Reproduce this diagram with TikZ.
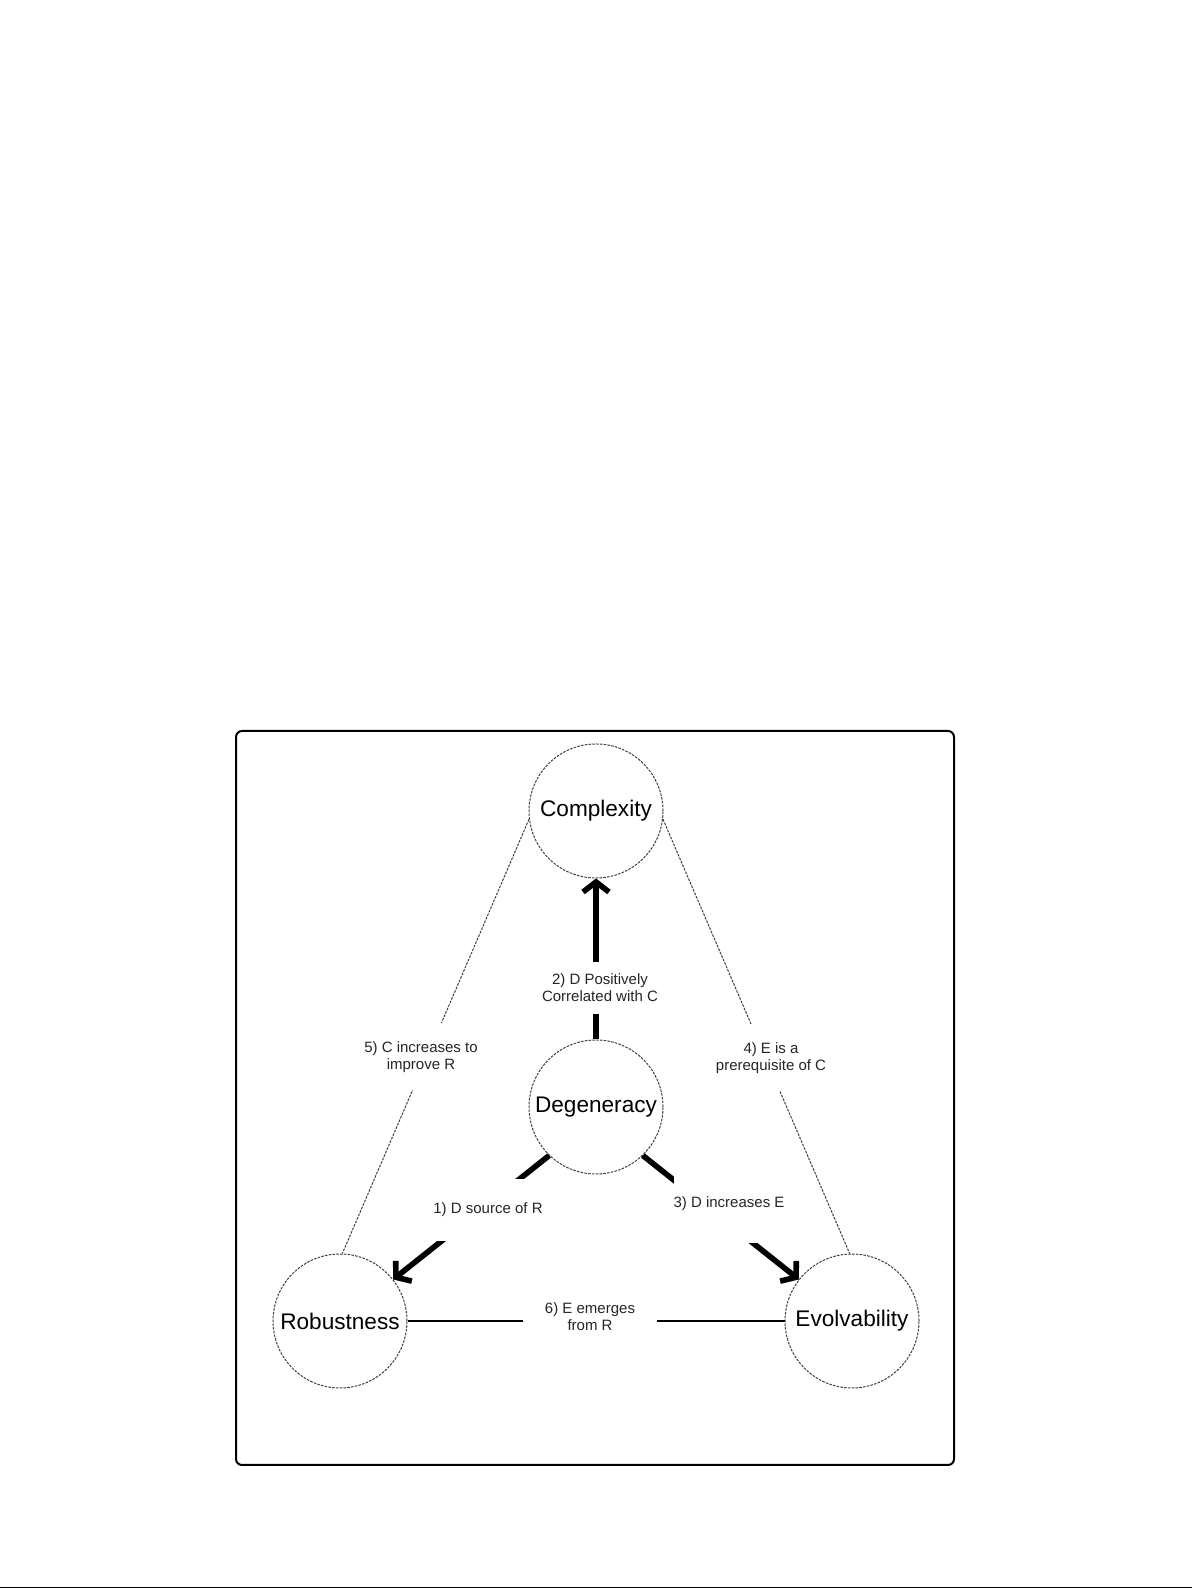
\documentclass[tikz,border=0pt]{standalone}
\usepackage{fontspec}
\setmainfont{Liberation Sans}
\usetikzlibrary{arrows.meta,positioning}

\tikzset{
    concept/.style={circle,draw=black!75,line width=0.5pt,dash pattern=on 1.3pt off 0.6pt,
        minimum size=67pt,inner sep=0pt,font=\fontsize{11.3}{13}\selectfont},
    relation/.style={fill=white,align=center,text=black!85,font=\fontsize{7.5}{8.5}\selectfont},
    strong/.style={line width=2.8pt,-{Straight Barb[length=5pt,width=13pt]}},
    weak/.style={draw=black!75,line width=0.5pt,dash pattern=on 1.3pt off 0.6pt},
    link/.style={line width=1pt}
}

\begin{document}
\begin{tikzpicture}[x=0.5pt,y=0.5pt]
        \useasboundingbox (0,0) rectangle (1192,1588);

        % Frame
        \draw[line width=1pt,rounded corners=3pt] (236,123) rectangle (954,857);
        \draw[line width=0.5pt] (0,0.5) -- (1192,0.5);

        % Concepts
        \node[concept] (cpx) at (596,777) {Complexity};
        \node[concept] (deg) at (596,481) {Degeneracy};
        \node[concept] (rob) at (340,267) {Robustness};
        \node[concept] (evo) at (852,267) {Evolvability};

        % Degeneracy as the source
        \draw[strong] (deg.north) -- (cpx.south);
        \draw[strong] (deg.226) -- (rob.38);
        \draw[strong] (deg.314) -- (evo.142);

        % Remaining relations
        \draw[weak] (cpx.187) -- (rob.88);
        \draw[weak] (cpx.353) -- (evo.92);
        \draw[link] (rob.east) -- (evo.west);

        % Labels (white boxes break the lines)
        \node[relation,inner xsep=1pt,inner ysep=6pt] (l2) at (600,600) {2) D Positively\\Correlated with C};
        \node[relation,inner xsep=1pt,inner ysep=9pt] (l5) at (421,531) {5) C increases to\\improve R};
        \node[relation,inner xsep=1pt,inner ysep=9pt] (l4) at (771,530) {4) E is a\\prerequisite of C};
        \node[relation,inner xsep=0pt,inner ysep=12pt] (l1) at (488,378) {1) D source of R};
        \node[relation,inner xsep=0pt,inner ysep=16pt] (l3) at (729,384) {3) D increases E};
        \node[relation,inner xsep=11pt,inner ysep=1pt] (l6) at (590,271) {6) E emerges\\from R};

\end{tikzpicture}
\end{document}
